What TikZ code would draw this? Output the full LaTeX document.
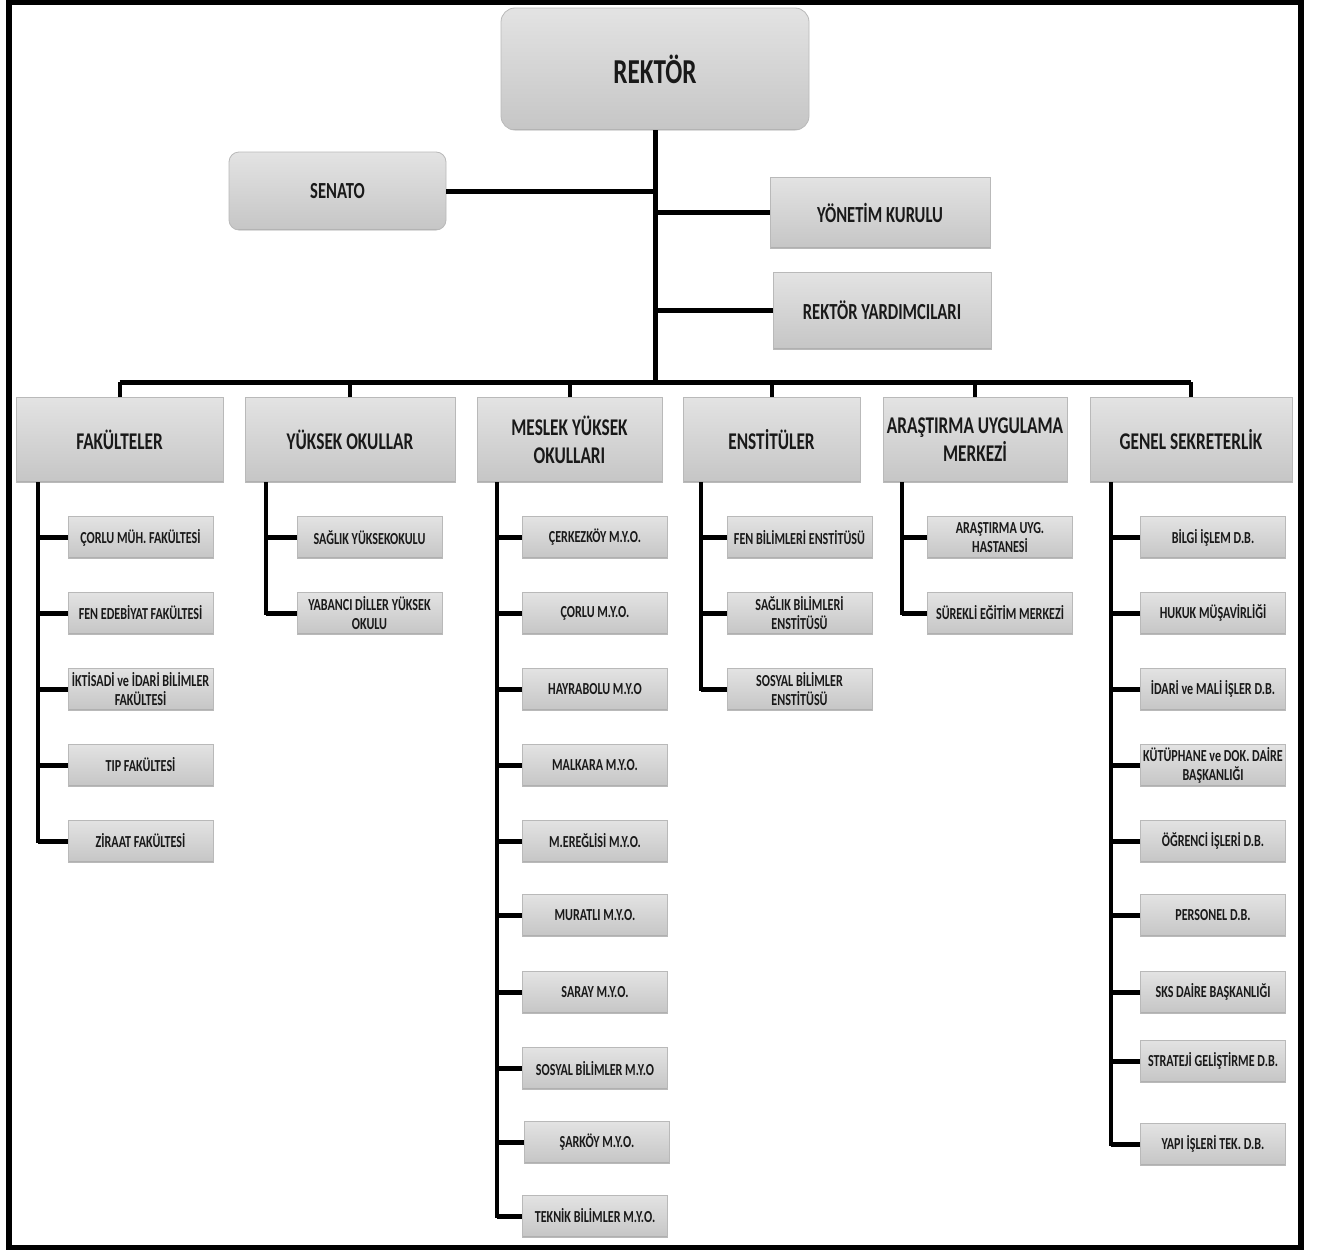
\documentclass[tikz,border=0pt]{standalone}
\usepackage{fontspec}
\newfontfamily\cf[FakeStretch=0.72]{Carlito}
\begin{document}
\begin{tikzpicture}[x=1pt,y=-1pt,
  bev/.style={draw=gray!55, line width=0.8pt, inner sep=0pt, align=center, text=black!90,
    top color=gray!22, middle color=white, bottom color=gray!45,
    path picture={\draw[gray!62, line width=3pt] (path picture bounding box.south west) -- (path picture bounding box.south east);}},
  topbox/.style={bev, rounded corners=14pt, minimum width=308pt, minimum height=122pt,
    font=\cf\bfseries\fontsize{35}{40}\selectfont},
  sidebox/.style={bev, minimum height=75pt, font=\cf\bfseries\fontsize{23}{27}\selectfont},
  headbox/.style={bev, minimum height=85pt, font=\cf\bfseries\fontsize{24}{28}\selectfont},
  childbox/.style={bev, minimum width=145pt, minimum height=42pt, font=\cf\bfseries\fontsize{16.8}{19}\selectfont},
  mainline/.style={line width=5pt, black},
  dropline/.style={line width=4pt, black},
  vline/.style={line width=4pt, black},
  hline/.style={line width=5pt, black}
]
\useasboundingbox (0,0) rectangle (1318,1250);
\draw[line width=6pt] (9,2) rectangle (1301,1248);

% top level
\node[topbox] (rektor) at (655,69) {REKTÖR};
\node[sidebox, rounded corners=10pt, minimum width=217pt, minimum height=78pt] (senato) at (337.5,191) {SENATO};
\node[sidebox, minimum width=220pt, minimum height=71pt] (yonetim) at (880,212.5) {YÖNETİM KURULU};
\node[sidebox, minimum width=218pt, minimum height=77pt] (ryard) at (882,310.5) {REKTÖR YARDIMCILARI};

\coordinate (bus) at (655,382);
\draw[mainline] (rektor.south) -- (bus);
\draw[mainline] (senato.east) -- (senato.east -| rektor.south);
\draw[mainline] (yonetim.west) -- (yonetim.west -| rektor.south);
\draw[mainline] (ryard.west) -- (ryard.west -| rektor.south);

% heading row
\node[headbox, minimum width=207pt] (fak) at (119.5,439.5) {FAKÜLTELER};
\node[headbox, minimum width=210pt] (yuk) at (350,439.5) {YÜKSEK OKULLAR};
\node[headbox, minimum width=185pt] (mes) at (569.5,439.5) {MESLEK YÜKSEK\\OKULLARI};
\node[headbox, minimum width=177pt] (ens) at (771.5,439.5) {ENSTİTÜLER};
\node[headbox, minimum width=184pt] (ara) at (975,439.5) {ARAŞTIRMA UYGULAMA\\MERKEZİ};
\node[headbox, minimum width=202pt] (gen) at (1191,439.5) {GENEL SEKRETERLİK};

\draw[mainline] (fak.north |- bus) -- (gen.north |- bus);
\foreach \n in {fak,yuk,mes,ens,ara,gen}{
  \draw[dropline] (\n.north |- bus) -- (\n.north);
}

% FAKÜLTELER children
\coordinate (fakt) at (38,482);
\node[childbox] (f1) at (140.5,537.5) {ÇORLU MÜH. FAKÜLTESİ};
\node[childbox] (f2) at (140.5,613) {FEN EDEBİYAT FAKÜLTESİ};
\node[childbox] (f3) at (140.5,689) {İKTİSADİ ve İDARİ BİLİMLER\\FAKÜLTESİ};
\node[childbox] (f4) at (140.5,765) {TIP FAKÜLTESİ};
\node[childbox] (f5) at (140.5,841) {ZİRAAT FAKÜLTESİ};
\draw[vline] (fakt) |- (f5.west);
\foreach \c in {f1,f2,f3,f4,f5}{ \draw[hline] (\c.west) -- (\c.west -| fakt); }

% YÜKSEK OKULLAR children
\coordinate (yukt) at (266,482);
\node[childbox] (y1) at (369.5,537.5) {SAĞLIK YÜKSEKOKULU};
\node[childbox] (y2) at (369.5,613) {YABANCI DİLLER YÜKSEK\\OKULU};
\draw[vline] (yukt) |- (y2.west);
\foreach \c in {y1,y2}{ \draw[hline] (\c.west) -- (\c.west -| yukt); }

% MESLEK YÜKSEK OKULLARI children
\coordinate (mest) at (497,482);
\node[childbox] (m1) at (595,537.5) {ÇERKEZKÖY M.Y.O.};
\node[childbox] (m2) at (595,613) {ÇORLU M.Y.O.};
\node[childbox] (m3) at (595,689) {HAYRABOLU M.Y.O};
\node[childbox] (m4) at (595,765) {MALKARA M.Y.O.};
\node[childbox] (m5) at (595,841) {M.EREĞLİSİ M.Y.O.};
\node[childbox] (m6) at (595,915) {MURATLI M.Y.O.};
\node[childbox] (m7) at (595,992.5) {SARAY M.Y.O.};
\node[childbox] (m8) at (595,1068.5) {SOSYAL BİLİMLER M.Y.O};
\node[childbox] (m9) at (597,1142) {ŞARKÖY M.Y.O.};
\node[childbox] (m10) at (595,1216) {TEKNİK BİLİMLER M.Y.O.};
\draw[vline] (mest) |- (m10.west);
\foreach \c in {m1,m2,m3,m4,m5,m6,m7,m8,m9,m10}{ \draw[hline] (\c.west) -- (\c.west -| mest); }

% ENSTİTÜLER children
\coordinate (enst) at (701,482);
\node[childbox] (e1) at (799.5,537.5) {FEN BİLİMLERİ ENSTİTÜSÜ};
\node[childbox] (e2) at (799.5,613) {SAĞLIK BİLİMLERİ\\ENSTİTÜSÜ};
\node[childbox] (e3) at (799.5,689) {SOSYAL BİLİMLER\\ENSTİTÜSÜ};
\draw[vline] (enst) |- (e3.west);
\foreach \c in {e1,e2,e3}{ \draw[hline] (\c.west) -- (\c.west -| enst); }

% ARAŞTIRMA UYGULAMA MERKEZİ children
\coordinate (arat) at (902,482);
\node[childbox] (a1) at (1000,537.5) {ARAŞTIRMA UYG.\\HASTANESİ};
\node[childbox] (a2) at (1000,613) {SÜREKLİ EĞİTİM MERKEZİ};
\draw[vline] (arat) |- (a2.west);
\foreach \c in {a1,a2}{ \draw[hline] (\c.west) -- (\c.west -| arat); }

% GENEL SEKRETERLİK children
\coordinate (gent) at (1111,482);
\node[childbox] (g1) at (1213,537.5) {BİLGİ İŞLEM D.B.};
\node[childbox] (g2) at (1213,613) {HUKUK MÜŞAVİRLİĞİ};
\node[childbox] (g3) at (1213,689) {İDARİ ve MALİ İŞLER D.B.};
\node[childbox] (g4) at (1213,765) {KÜTÜPHANE ve DOK. DAİRE\\BAŞKANLIĞI};
\node[childbox] (g5) at (1213,841) {ÖĞRENCİ İŞLERİ D.B.};
\node[childbox] (g6) at (1213,915.5) {PERSONEL D.B.};
\node[childbox] (g7) at (1213,992) {SKS DAİRE BAŞKANLIĞI};
\node[childbox] (g8) at (1213,1061) {STRATEJİ GELİŞTİRME D.B.};
\node[childbox] (g9) at (1213,1144) {YAPI İŞLERİ TEK. D.B.};
\draw[vline] (gent) |- (g9.west);
\foreach \c in {g1,g2,g3,g4,g5,g6,g7,g8,g9}{ \draw[hline] (\c.west) -- (\c.west -| gent); }
\end{tikzpicture}
\end{document}
